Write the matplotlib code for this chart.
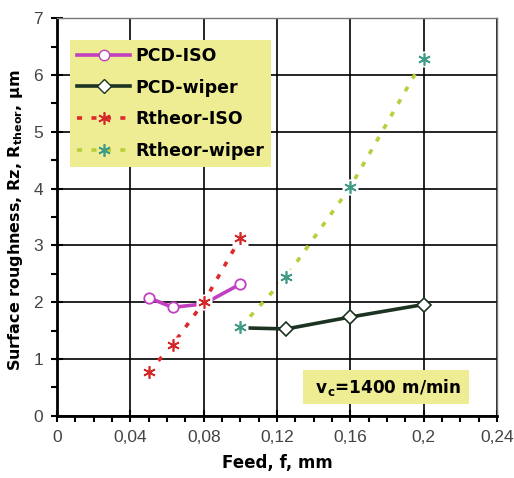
"""Surface roughness vs feed, PCD tools"""
import numpy as np
import matplotlib
matplotlib.use('Agg')
import matplotlib.pyplot as plt
from matplotlib.lines import Line2D
from matplotlib.ticker import MultipleLocator, FixedLocator, FixedFormatter

# ============== DATA ==============
feed_iso = [0.05, 0.063, 0.08, 0.1]
rz_pcd_iso = [2.08, 1.91, 1.97, 2.32]
rth_iso = [0.78, 1.25, 2.0, 3.13]

feed_wiper = [0.1, 0.125, 0.16, 0.2]
rz_pcd_wiper = [1.55, 1.53, 1.74, 1.96]
rth_wiper = [1.56, 2.45, 4.03, 6.28]

x_ticks = [0, 0.04, 0.08, 0.12, 0.16, 0.2, 0.24]
x_tick_labels = ['0', '0,04', '0,08', '0,12', '0,16', '0,2', '0,24']
# ==================================

plt.rcParams['font.family'] = ['Liberation Sans', 'DejaVu Sans']
BOLD = ['DejaVu Sans']

YELLOW = '#efed93'
ASTER = (6, 2, 0)
DASH = (0, (1.4, 2.6))

fig = plt.figure(figsize=(5.14, 4.78), dpi=100)
ax = fig.add_axes([0.111, 0.130, 0.856, 0.832])

# measured
ax.plot(feed_iso, rz_pcd_iso, color='#c040c0', lw=2.6, marker='o', ms=7.5,
        mfc='white', mec='#c040c0', mew=1.3, zorder=4)
ax.plot(feed_wiper, rz_pcd_wiper, color='#1c3322', lw=2.6, marker='D', ms=7,
        mfc='white', mec='#1c3322', mew=1.2, markevery=[1, 2, 3], zorder=4)

# theoretical (white square behind the asterisk, like excel markers)
ax.plot(feed_iso, rth_iso, color='#dd2a2a', lw=2.6, ls=DASH, zorder=3)
ax.plot(feed_wiper, rth_wiper, color='#b8cf3a', lw=2.6, ls=DASH, zorder=3)
ax.plot(feed_iso, rth_iso, ls='', marker='s', ms=11, mfc='white', mec='none', zorder=5)
ax.plot(feed_wiper, rth_wiper, ls='', marker='s', ms=11, mfc='white', mec='none', zorder=5)
ax.plot(feed_iso, rth_iso, ls='', marker=ASTER, ms=9, mec='#d42828', mew=1.2, zorder=6)
ax.plot(feed_wiper, rth_wiper, ls='', marker=ASTER, ms=9, mec='#3f9a86', mew=1.2, zorder=6)

# legend proxies
handles = [
    Line2D([0], [0], color='#c040c0', lw=2.6, marker='o', ms=7.5, mfc='white', mec='#c040c0'),
    Line2D([0], [0], color='#1c3322', lw=2.6, marker='D', ms=7, mfc='white', mec='#1c3322'),
    Line2D([0], [0], color='#dd2a2a', lw=2.6, ls=DASH, marker=ASTER, ms=9,
           mec='#d42828', mew=1.2),
    Line2D([0], [0], color='#b8cf3a', lw=2.6, ls=DASH, marker=ASTER, ms=9,
           mec='#3f9a86', mew=1.2),
]
leg = ax.legend(handles, ['PCD-ISO', 'PCD-wiper', 'Rtheor-ISO', 'Rtheor-wiper'],
                loc='upper left', bbox_to_anchor=(0.0295, 0.945), borderaxespad=0,
                frameon=True, fancybox=False, facecolor=YELLOW, edgecolor='none',
                framealpha=1, handlelength=3.1, handletextpad=0.28, labelspacing=0.8,
                borderpad=0.38, prop={'family': BOLD, 'weight': 'bold', 'size': 12.5})
leg.set_zorder(10)

ax.text(0.1795, 0.505, r' v$_\mathbf{c}$=1400 m/min ', fontsize=12.2, fontweight='bold',
        family=BOLD, ha='center', va='center', zorder=10,
        bbox=dict(boxstyle='square,pad=0.4', fc=YELLOW, ec='none'))

ax.set_xlim(0, 0.24)
ax.set_ylim(0, 7)
ax.xaxis.set_major_locator(FixedLocator(x_ticks))
ax.xaxis.set_major_formatter(FixedFormatter(x_tick_labels))
ax.xaxis.set_minor_locator(MultipleLocator(0.01))
ax.yaxis.set_major_locator(MultipleLocator(1))
ax.yaxis.set_minor_locator(MultipleLocator(0.5))

ax.grid(True, which='major', color='black', lw=1.2)
ax.set_axisbelow(True)
ax.tick_params(which='major', direction='inout', length=8, width=1.5,
               labelsize=12.5, labelcolor='#444444', pad=6)
ax.tick_params(which='minor', direction='out', length=4, width=1.5)

for s in ['left', 'bottom']:
    ax.spines[s].set_linewidth(2)
    ax.spines[s].set_color('black')
for s in ['top', 'right']:
    ax.spines[s].set_linewidth(1)
    ax.spines[s].set_color('#777777')

ax.set_xlabel('Feed, f, mm', fontsize=12, fontweight='bold', family=BOLD, labelpad=7)
ax.set_ylabel(r'Surface roughness, Rz, R$_{\mathbf{theor}}$, µm', fontsize=11.5,
              fontweight='bold', family=BOLD)
ax.yaxis.set_label_coords(-0.073, 0.492)

fig.savefig('out.png', dpi=100)
